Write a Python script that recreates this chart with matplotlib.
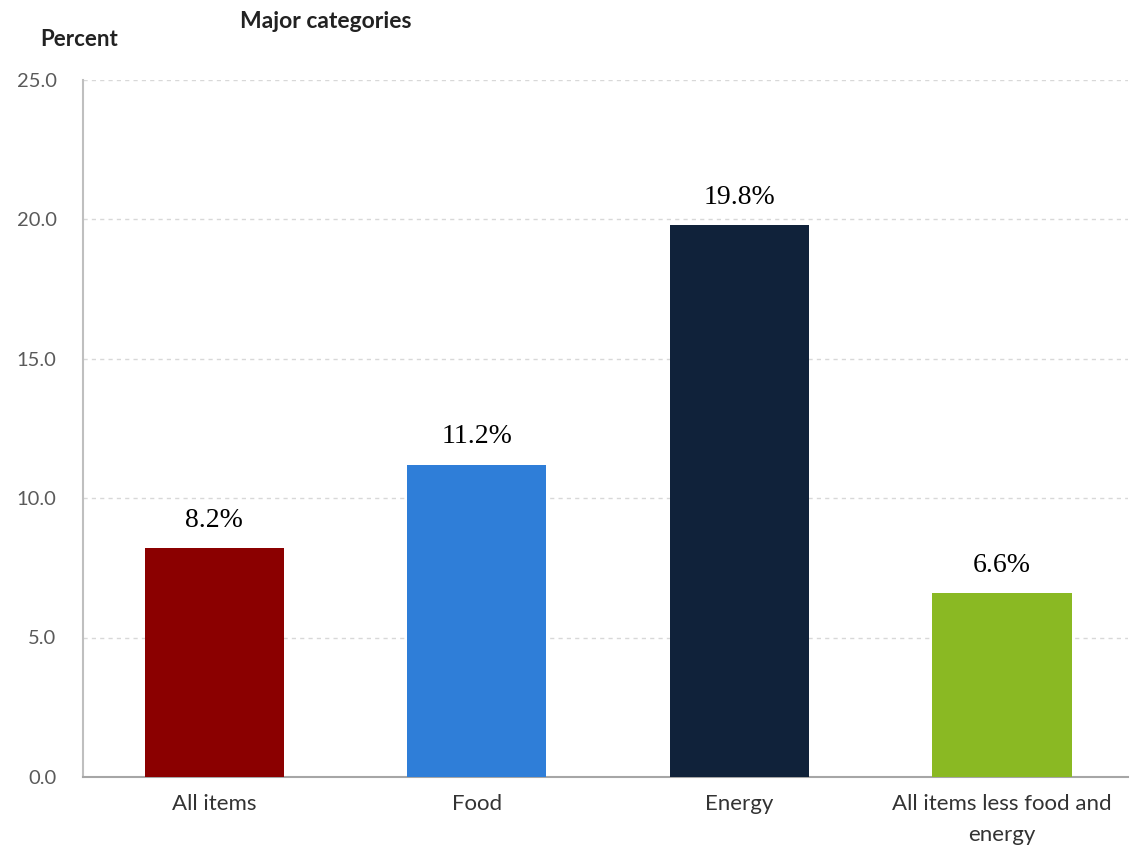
import matplotlib.pyplot as plt

categories = ["All items", "Food", "Energy", "All items less food and\nenergy"]
values = [8.2, 11.2, 19.8, 6.6]
colors = ["#8B0000", "#2F7ED8", "#10223A", "#8AB923"]
yticks = [0.0, 5.0, 10.0, 15.0, 20.0, 25.0]

fig = plt.figure(figsize=(11.36, 8.5), dpi=100)
ax = fig.add_axes([0.073, 0.086, 0.92, 0.82])

x = range(len(categories))
bars = ax.bar(x, values, width=0.53, color=colors, zorder=3)

for xi, v in zip(x, values):
    ax.text(xi, v + 0.55, f"{v:.1f}%", ha="center", va="bottom",
            fontsize=20, family="Liberation Serif", color="black")

ax.set_xlim(-0.5, 3.48)
ax.set_ylim(0, 25)
ax.set_yticks(yticks)
ax.set_yticklabels([f"{t:.1f}" for t in yticks], family="Lato", fontsize=14.5, color="#5a5a5a")
ax.set_xticks(list(x))
ax.set_xticklabels(categories, family="Lato", fontsize=16, color="#333333", linespacing=1.7)
ax.tick_params(axis="both", length=0)
ax.tick_params(axis="y", pad=19)
ax.tick_params(axis="x", pad=12)

ax.yaxis.grid(True, linestyle=(0, (3, 3)), color="#d8d8d8", linewidth=1, zorder=0)
for s in ["top", "right"]:
    ax.spines[s].set_visible(False)
ax.spines["left"].set_color("#bfbfbf")
ax.spines["bottom"].set_color("#a6a6a6")
ax.spines["left"].set_linewidth(1.5)
ax.spines["bottom"].set_linewidth(1.5)

fig.text(40 / 1136, 1 - 39 / 850, "Percent", family="Lato", fontweight="bold",
         fontsize=16, va="center", ha="left", color="#222222")
fig.text(240 / 1136, 1 - 22 / 850, "Major categories", family="Lato", fontweight="bold",
         fontsize=16.5, va="center", ha="left", color="#222222")

plt.savefig("out.png", dpi=100)
